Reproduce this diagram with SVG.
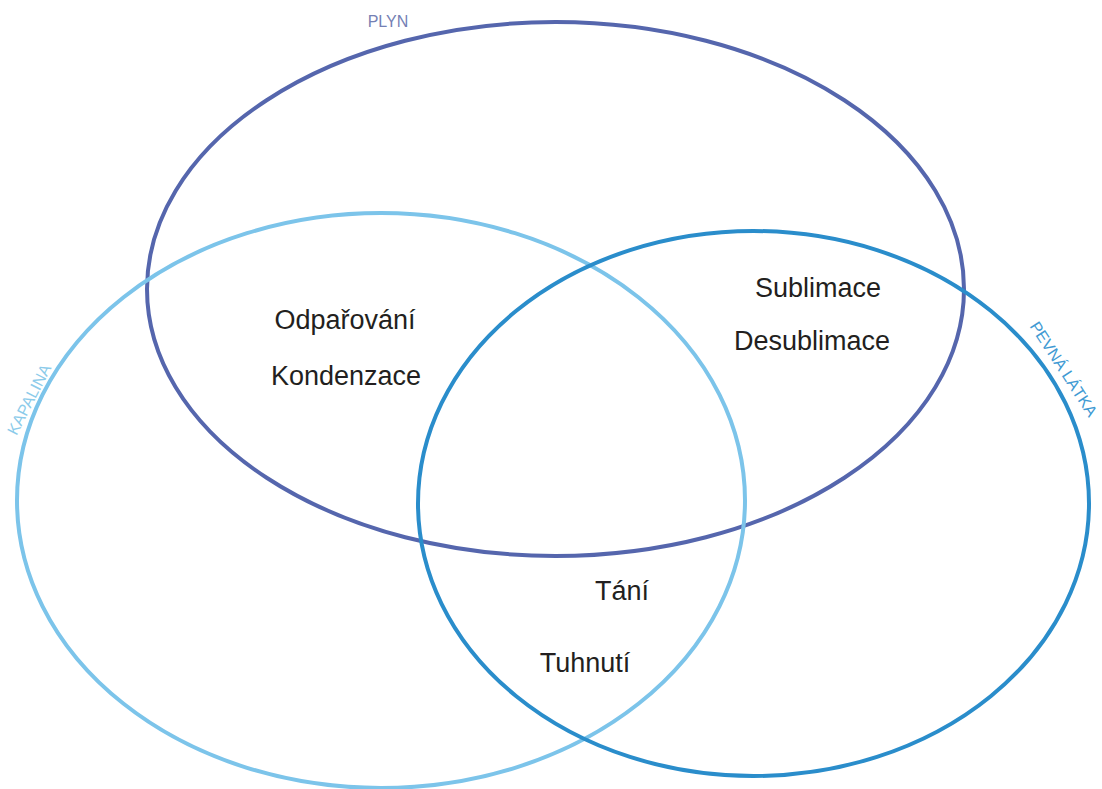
<svg xmlns="http://www.w3.org/2000/svg" width="1102" height="789" viewBox="0 0 1102 789">
<style>
.e{fill:none;stroke-width:4}
.t{font-family:"Liberation Sans",Arial,sans-serif;font-size:27px;fill:#231f20;text-anchor:middle}
.l{font-family:"Liberation Sans",Arial,sans-serif;font-size:16px;text-anchor:middle}
</style>
<rect width="1102" height="789" fill="#ffffff"/>
<g id="plyn">
<ellipse class="e" cx="555.5" cy="289" rx="408.5" ry="267" stroke="#5566ad"/>
<text class="l" x="388" y="27" fill="#7480b4">PLYN</text>
</g>
<g id="kapalina">
<ellipse class="e" cx="381" cy="500.5" rx="364" ry="287.5" stroke="#7cc4ea"/>
<text class="l" x="0" y="0" fill="#8ccbea" transform="translate(34,402) rotate(-63)">KAPALINA</text>
</g>
<g id="pevna">
<ellipse class="e" cx="753.5" cy="503.5" rx="335.5" ry="272.5" stroke="#2a8dcb"/>
<text class="l" x="0" y="0" fill="#3f9ad3" transform="translate(1059,372) rotate(57)">PEVNÁ LÁTKA</text>
</g>
<g id="labels">
<text class="t" x="345" y="329">Odpařování</text>
<text class="t" x="346" y="385">Kondenzace</text>
<text class="t" x="818" y="297">Sublimace</text>
<text class="t" x="812" y="350">Desublimace</text>
<text class="t" x="622" y="600">Tání</text>
<text class="t" x="585" y="672">Tuhnutí</text>
</g>
</svg>
